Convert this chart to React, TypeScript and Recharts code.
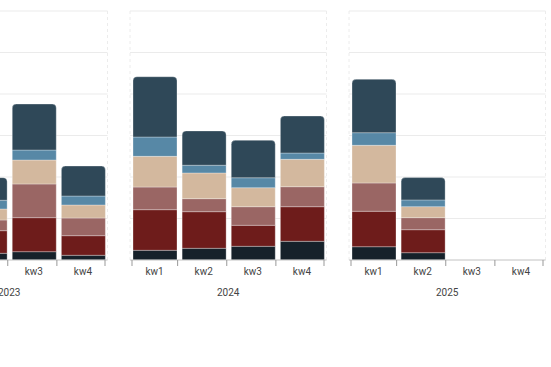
import React from 'react';
import { BarChart, Bar, XAxis, YAxis, CartesianGrid } from 'recharts';

const years = ['2023', '2024', '2025'];
const weeks = ['kw1', 'kw2', 'kw3', 'kw4'];
const yTicks = [0, 50, 100, 150, 200, 250, 300];

// one value per week, year after year (2023 kw1..kw4, 2024 kw1..kw4, 2025 kw1..kw4)
const navy = [10, 8.1, 10, 5.7, 11.7, 14.1, 16.5, 22.5, 16, 8.8, null, null];
const red = [35, 27.2, 41, 23.6, 48.9, 44.1, 25.3, 41.7, 42.7, 27.7, null, null];
const rose = [20, 12.9, 40.6, 21.3, 27.3, 15.7, 22.4, 24.1, 34.1, 14.5, null, null];
const tan = [25, 13.3, 28.9, 15.7, 37, 31, 22.9, 33, 45.4, 13.3, null, null];
const blue = [12, 10.5, 12, 10.8, 23.3, 9.3, 12, 7.6, 15.2, 8.1, null, null];
const slate = [45, 27.2, 55.4, 36.1, 72.6, 41.3, 45.1, 44.6, 64.3, 26.9, null, null];

const series = [
  { key: 'navy', values: navy, color: '#16212a' },
  { key: 'red', values: red, color: '#6e1c1b' },
  { key: 'rose', values: rose, color: '#9a6664' },
  { key: 'tan', values: tan, color: '#d3b89e' },
  { key: 'blue', values: blue, color: '#5788a6' },
  { key: 'slate', values: slate, color: '#2f4858' },
];

const PLOT_W = 196.5;
const PITCH = 219;
const FIRST_LEFT = -89;
const M_LEFT = 2;
const M_RIGHT = 2.5;

const dataFor = (yi: number) =>
  weeks.map((kw, wi) => {
    const row: Record<string, any> = { kw };
    series.forEach((s) => {
      row[s.key] = s.values[yi * weeks.length + wi];
    });
    return row;
  });

// tick label plus tick marks on the category borders
const WeekTick = (props: any) => {
  const { x, y, payload, index } = props;
  const half = PLOT_W / weeks.length / 2;
  const y0 = y - 8;
  const y1 = y - 2;
  const lx = x - half + (index === 0 ? 2 : -1.5);
  return (
    <g>
      <line x1={lx} x2={lx} y1={y0} y2={y1} stroke="#999" />
      {index === weeks.length - 1 && (
        <line x1={x + half - 2.5} x2={x + half - 2.5} y1={y0} y2={y1} stroke="#999" />
      )}
      <text x={x} y={y} dy="0.71em" textAnchor="middle" fontSize={10} fill="#444">
        {payload.value}
      </text>
    </g>
  );
};

const YearPanel = ({ year, yi }: { year: string; yi: number }) => (
  <div style={{ position: 'absolute', top: 0, left: FIRST_LEFT + yi * PITCH - M_LEFT }}>
    <BarChart
      width={PLOT_W + M_LEFT + M_RIGHT}
      height={310}
      data={dataFor(yi)}
      margin={{ top: 11, right: M_RIGHT, left: M_LEFT, bottom: 10 }}
      barSize={44}
    >
      <CartesianGrid vertical={false} stroke="#ebebeb" />
      <CartesianGrid
        horizontal={false}
        stroke="#ececec"
        strokeDasharray="3 3"
        verticalCoordinatesGenerator={({ offset }: any) => [offset.left, offset.left + offset.width]}
      />
      <YAxis hide domain={[0, 300]} ticks={yTicks} />
      <XAxis
        dataKey="kw"
        height={40}
        tickSize={6}
        tickLine={false}
        axisLine={{ stroke: '#cccccc' }}
        tick={<WeekTick />}
        interval={0}
        label={{ value: year, position: 'insideBottom', offset: 4, fontSize: 10, fill: '#444' }}
      />
      {series.map((s, i) => (
        <Bar
          key={s.key}
          dataKey={s.key}
          stackId="a"
          fill={s.color}
          stroke="#ffffff"
          strokeOpacity={0.4}
          strokeWidth={0.75}
          radius={i === series.length - 1 ? [4, 4, 0, 0] : 0}
          isAnimationActive={false}
        />
      ))}
    </BarChart>
  </div>
);

export default function App() {
  return (
    <div
      style={{
        position: 'absolute',
        left: 0,
        top: 0,
        width: 551,
        height: 367,
        overflow: 'hidden',
        background: '#fff',
        fontFamily: 'Roboto, sans-serif',
      }}
    >
      {years.map((y, i) => (
        <YearPanel key={y} year={y} yi={i} />
      ))}
    </div>
  );
}
